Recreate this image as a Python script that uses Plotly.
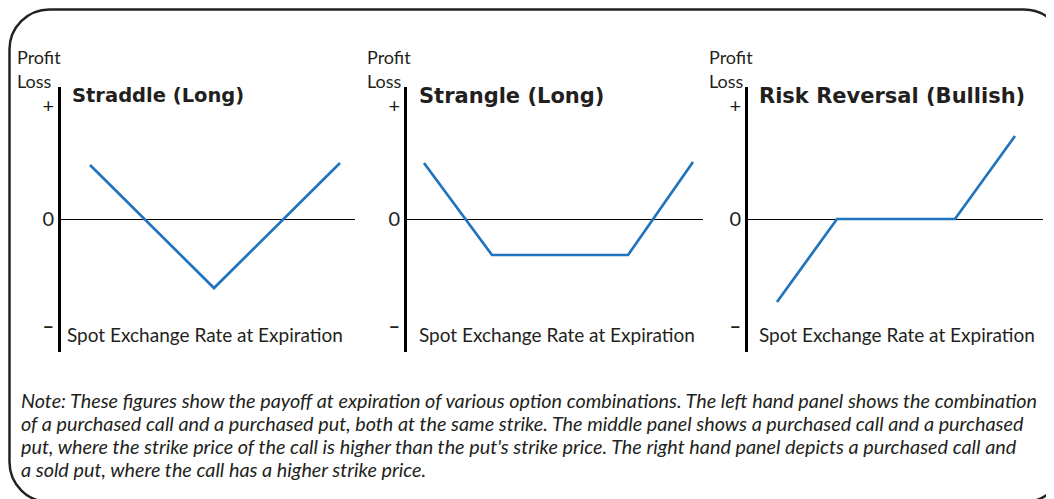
import plotly.graph_objects as go

# ---------------- data ----------------
titles = ["Straddle (Long)", "Strangle (Long)", "Risk Reversal (Bullish)"]
straddle_x = [2.9, 15.3, 27.9]
straddle_y = [5.4, -6.9, 5.6]
strangle_x = [1.7, 8.5, 22.1, 28.6]
strangle_y = [5.6, -3.6, -3.6, 5.7]
riskrev_x = [2.9, 8.9, 14.8, 20.7, 26.7]
riskrev_y = [-8.3, 0.0, 0.0, 0.0, 8.3]
tick_vals = [11.3, 0, -10.7]
tick_text = ["+", "0", "<b>\u2013</b>"]
ylabel_top = "Profit"
ylabel_bot = "Loss"
xlabel = "Spot Exchange Rate at Expiration"
note_lines = [
    "Note: These figures show the payoff at expiration of various option combinations. The left hand panel shows the combination",
    "of a purchased call and a purchased put, both at the same strike. The middle panel shows a purchased call and a purchased",
    "put, where the strike price of the call is higher than the put's strike price. The right hand panel depicts a purchased call and",
    "a sold put, where the call has a higher strike price.",
]

# ---------------- layout constants (window pixels) ----------------
WIN_W, WIN_H = 1054, 499
OFF = 8                      # page body margin
W, H = WIN_W - OFF, WIN_H - OFF

def px(x):
    return (x - OFF) / W

def py(y):
    return 1 - (y - OFF) / H

series = [(straddle_x, straddle_y), (strangle_x, strangle_y), (riskrev_x, riskrev_y)]
axis_px = [61, 407, 748]
end_px = [355, 703, 1043]
title_dx = [9, 10, 9]
title_size = [19.5, 21, 21]
xlabel_dx = [4, 10, 9]
profit_px = [15, 365, 707]
ytop_px, ybot_px, zero_px = 87, 352, 219
SCALE = 10.0  # px per data unit

INK = "#231f20"
BODY = "Lato"
TITLE = "DejaVu Sans"

fig = go.Figure()
for i, (xs, ys) in enumerate(series):
    n = "" if i == 0 else str(i + 1)
    fig.add_trace(go.Scatter(x=xs, y=ys, mode="lines",
                             line=dict(color="#1f74bd", width=2.7),
                             xaxis="x" + n, yaxis="y" + n, showlegend=False,
                             hoverinfo="skip"))
    x0, x1 = axis_px[i], end_px[i]
    fig.layout["xaxis" + n] = dict(domain=[px(x0), px(x1)], range=[0, (x1 - x0) / SCALE],
                                   showline=False, showgrid=False, zeroline=False,
                                   showticklabels=False, anchor="y" + n, fixedrange=True)
    fig.layout["yaxis" + n] = dict(domain=[py(ybot_px), py(ytop_px)],
                                   range=[-(ybot_px - zero_px) / SCALE, (zero_px - ytop_px) / SCALE],
                                   showline=True, linewidth=3, linecolor="black",
                                   showgrid=False, zeroline=True, zerolinecolor="black",
                                   zerolinewidth=1.2, tickvals=tick_vals, ticktext=tick_text,
                                   ticks="", tickfont=dict(family=BODY, size=20, color=INK),
                                   anchor="x" + n, fixedrange=True)
    fig.add_annotation(x=px(x0 + title_dx[i]), y=py(96), xref="paper", yref="paper",
                       text="<b>" + titles[i] + "</b>", showarrow=False,
                       xanchor="left", yanchor="middle",
                       font=dict(family=TITLE, size=title_size[i], color=INK))
    fig.add_annotation(x=px(profit_px[i]), y=py(57), xref="paper", yref="paper", text=ylabel_top,
                       showarrow=False, xanchor="left", yanchor="middle",
                       font=dict(family=BODY, size=18, color=INK))
    fig.add_annotation(x=px(profit_px[i]), y=py(81), xref="paper", yref="paper", text=ylabel_bot,
                       showarrow=False, xanchor="left", yanchor="middle",
                       font=dict(family=BODY, size=18, color=INK))
    fig.add_annotation(x=px(x0 + xlabel_dx[i]), y=py(334), xref="paper", yref="paper", text=xlabel,
                       showarrow=False, xanchor="left", yanchor="middle",
                       font=dict(family=BODY, size=19, color=INK))

for j, line in enumerate(note_lines):
    fig.add_annotation(x=px(19), y=py(400 + 23 * j), xref="paper", yref="paper",
                       text="<i>" + line + "</i>", showarrow=False, xanchor="left",
                       yanchor="middle", font=dict(family=BODY, size=19.8, color=INK))

# rounded border
def P(x, y):
    return f"{px(x):.5f},{py(y):.5f}"

L, T, R, B, r = 9.5, 9.5, 1064, 502, 40
k = 0.5523 * r
path = (f"M {P(L + r, T)} L {P(R - r, T)} C {P(R - r + k, T)} {P(R, T + r - k)} {P(R, T + r)} "
        f"L {P(R, B - r)} C {P(R, B - r + k)} {P(R - r + k, B)} {P(R - r, B)} "
        f"L {P(L + r, B)} C {P(L + r - k, B)} {P(L, B - r + k)} {P(L, B - r)} "
        f"L {P(L, T + r)} C {P(L, T + r - k)} {P(L + r - k, T)} {P(L + r, T)} Z")
fig.add_shape(type="path", path=path, xref="paper", yref="paper",
              line=dict(color="#222222", width=2.5))

fig.update_layout(width=W, height=H, margin=dict(l=0, r=0, t=0, b=0),
                  paper_bgcolor="white", plot_bgcolor="white")
fig.write_html("out.html")
